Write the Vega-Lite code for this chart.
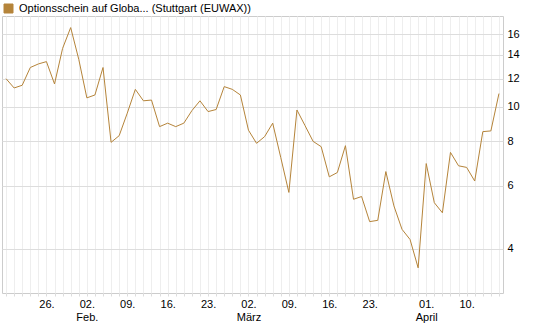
{
  "$schema": "https://vega.github.io/schema/vega-lite/v6.json",
  "width": 501,
  "height": 277,
  "autosize": {"type": "none"},
  "padding": {"left": 2, "top": 16, "right": 42, "bottom": 34},
  "background": "white",
  "config": {
    "font": "Liberation Sans",
    "view": {"stroke": "#cccccc", "strokeWidth": 1}
  },
  "data": {
    "values": [
      {"d": "2015-01-19", "v": 12.0, "name": "Optionsschein auf Globa... (Stuttgart (EUWAX))"},
      {"d": "2015-01-20", "v": 11.3, "name": "Optionsschein auf Globa... (Stuttgart (EUWAX))"},
      {"d": "2015-01-21", "v": 11.5, "name": "Optionsschein auf Globa... (Stuttgart (EUWAX))"},
      {"d": "2015-01-22", "v": 12.9, "name": "Optionsschein auf Globa... (Stuttgart (EUWAX))"},
      {"d": "2015-01-23", "v": 13.2, "name": "Optionsschein auf Globa... (Stuttgart (EUWAX))"},
      {"d": "2015-01-26", "v": 13.4, "name": "Optionsschein auf Globa... (Stuttgart (EUWAX))"},
      {"d": "2015-01-27", "v": 11.6, "name": "Optionsschein auf Globa... (Stuttgart (EUWAX))"},
      {"d": "2015-01-28", "v": 14.6, "name": "Optionsschein auf Globa... (Stuttgart (EUWAX))"},
      {"d": "2015-01-29", "v": 16.7, "name": "Optionsschein auf Globa... (Stuttgart (EUWAX))"},
      {"d": "2015-01-30", "v": 13.6, "name": "Optionsschein auf Globa... (Stuttgart (EUWAX))"},
      {"d": "2015-02-02", "v": 10.6, "name": "Optionsschein auf Globa... (Stuttgart (EUWAX))"},
      {"d": "2015-02-03", "v": 10.8, "name": "Optionsschein auf Globa... (Stuttgart (EUWAX))"},
      {"d": "2015-02-04", "v": 12.9, "name": "Optionsschein auf Globa... (Stuttgart (EUWAX))"},
      {"d": "2015-02-05", "v": 7.95, "name": "Optionsschein auf Globa... (Stuttgart (EUWAX))"},
      {"d": "2015-02-06", "v": 8.3, "name": "Optionsschein auf Globa... (Stuttgart (EUWAX))"},
      {"d": "2015-02-09", "v": 9.6, "name": "Optionsschein auf Globa... (Stuttgart (EUWAX))"},
      {"d": "2015-02-10", "v": 11.2, "name": "Optionsschein auf Globa... (Stuttgart (EUWAX))"},
      {"d": "2015-02-11", "v": 10.4, "name": "Optionsschein auf Globa... (Stuttgart (EUWAX))"},
      {"d": "2015-02-12", "v": 10.45, "name": "Optionsschein auf Globa... (Stuttgart (EUWAX))"},
      {"d": "2015-02-13", "v": 8.8, "name": "Optionsschein auf Globa... (Stuttgart (EUWAX))"},
      {"d": "2015-02-16", "v": 9.0, "name": "Optionsschein auf Globa... (Stuttgart (EUWAX))"},
      {"d": "2015-02-17", "v": 8.8, "name": "Optionsschein auf Globa... (Stuttgart (EUWAX))"},
      {"d": "2015-02-18", "v": 9.0, "name": "Optionsschein auf Globa... (Stuttgart (EUWAX))"},
      {"d": "2015-02-19", "v": 9.76, "name": "Optionsschein auf Globa... (Stuttgart (EUWAX))"},
      {"d": "2015-02-20", "v": 10.4, "name": "Optionsschein auf Globa... (Stuttgart (EUWAX))"},
      {"d": "2015-02-23", "v": 9.7, "name": "Optionsschein auf Globa... (Stuttgart (EUWAX))"},
      {"d": "2015-02-24", "v": 9.83, "name": "Optionsschein auf Globa... (Stuttgart (EUWAX))"},
      {"d": "2015-02-25", "v": 11.4, "name": "Optionsschein auf Globa... (Stuttgart (EUWAX))"},
      {"d": "2015-02-26", "v": 11.2, "name": "Optionsschein auf Globa... (Stuttgart (EUWAX))"},
      {"d": "2015-02-27", "v": 10.8, "name": "Optionsschein auf Globa... (Stuttgart (EUWAX))"},
      {"d": "2015-03-02", "v": 8.6, "name": "Optionsschein auf Globa... (Stuttgart (EUWAX))"},
      {"d": "2015-03-03", "v": 7.9, "name": "Optionsschein auf Globa... (Stuttgart (EUWAX))"},
      {"d": "2015-03-04", "v": 8.25, "name": "Optionsschein auf Globa... (Stuttgart (EUWAX))"},
      {"d": "2015-03-05", "v": 9.0, "name": "Optionsschein auf Globa... (Stuttgart (EUWAX))"},
      {"d": "2015-03-06", "v": 7.2, "name": "Optionsschein auf Globa... (Stuttgart (EUWAX))"},
      {"d": "2015-03-09", "v": 5.75, "name": "Optionsschein auf Globa... (Stuttgart (EUWAX))"},
      {"d": "2015-03-10", "v": 9.8, "name": "Optionsschein auf Globa... (Stuttgart (EUWAX))"},
      {"d": "2015-03-11", "v": 8.86, "name": "Optionsschein auf Globa... (Stuttgart (EUWAX))"},
      {"d": "2015-03-12", "v": 8.0, "name": "Optionsschein auf Globa... (Stuttgart (EUWAX))"},
      {"d": "2015-03-13", "v": 7.73, "name": "Optionsschein auf Globa... (Stuttgart (EUWAX))"},
      {"d": "2015-03-16", "v": 6.36, "name": "Optionsschein auf Globa... (Stuttgart (EUWAX))"},
      {"d": "2015-03-17", "v": 6.54, "name": "Optionsschein auf Globa... (Stuttgart (EUWAX))"},
      {"d": "2015-03-18", "v": 7.78, "name": "Optionsschein auf Globa... (Stuttgart (EUWAX))"},
      {"d": "2015-03-19", "v": 5.5, "name": "Optionsschein auf Globa... (Stuttgart (EUWAX))"},
      {"d": "2015-03-20", "v": 5.6, "name": "Optionsschein auf Globa... (Stuttgart (EUWAX))"},
      {"d": "2015-03-23", "v": 4.76, "name": "Optionsschein auf Globa... (Stuttgart (EUWAX))"},
      {"d": "2015-03-24", "v": 4.8, "name": "Optionsschein auf Globa... (Stuttgart (EUWAX))"},
      {"d": "2015-03-25", "v": 6.58, "name": "Optionsschein auf Globa... (Stuttgart (EUWAX))"},
      {"d": "2015-03-26", "v": 5.27, "name": "Optionsschein auf Globa... (Stuttgart (EUWAX))"},
      {"d": "2015-03-27", "v": 4.53, "name": "Optionsschein auf Globa... (Stuttgart (EUWAX))"},
      {"d": "2015-03-30", "v": 4.24, "name": "Optionsschein auf Globa... (Stuttgart (EUWAX))"},
      {"d": "2015-03-31", "v": 3.53, "name": "Optionsschein auf Globa... (Stuttgart (EUWAX))"},
      {"d": "2015-04-01", "v": 6.93, "name": "Optionsschein auf Globa... (Stuttgart (EUWAX))"},
      {"d": "2015-04-02", "v": 5.38, "name": "Optionsschein auf Globa... (Stuttgart (EUWAX))"},
      {"d": "2015-04-07", "v": 5.04, "name": "Optionsschein auf Globa... (Stuttgart (EUWAX))"},
      {"d": "2015-04-08", "v": 7.45, "name": "Optionsschein auf Globa... (Stuttgart (EUWAX))"},
      {"d": "2015-04-09", "v": 6.83, "name": "Optionsschein auf Globa... (Stuttgart (EUWAX))"},
      {"d": "2015-04-10", "v": 6.76, "name": "Optionsschein auf Globa... (Stuttgart (EUWAX))"},
      {"d": "2015-04-13", "v": 6.19, "name": "Optionsschein auf Globa... (Stuttgart (EUWAX))"},
      {"d": "2015-04-14", "v": 8.52, "name": "Optionsschein auf Globa... (Stuttgart (EUWAX))"},
      {"d": "2015-04-15", "v": 8.56, "name": "Optionsschein auf Globa... (Stuttgart (EUWAX))"},
      {"d": "2015-04-16", "v": 10.9, "name": "Optionsschein auf Globa... (Stuttgart (EUWAX))"}
    ]
  },
  "mark": {"type": "line", "strokeWidth": 1, "interpolate": "linear"},
  "encoding": {
    "x": {
      "field": "d",
      "type": "ordinal",
      "sort": "ascending",
      "scale": {"type": "point", "padding": 0.5},
      "axis": {
        "title": null,
        "grid": true,
        "gridColor": "#eeeeee",
        "gridWidth": 1,
        "domain": false,
        "ticks": true,
        "tickColor": "#dddddd",
        "tickSize": 3,
        "labelAngle": 0,
        "labelPadding": 2,
        "labelFontSize": 11,
        "labelColor": "#000000",
        "labelOverlap": false,
        "labelLineHeight": 13,
        "labelBaseline": "top",
        "labelExpr": "datum.value == '2015-01-26' ? '26.' : datum.value == '2015-02-02' ? ['02.', 'Feb.'] : datum.value == '2015-02-09' ? '09.' : datum.value == '2015-02-16' ? '16.' : datum.value == '2015-02-23' ? '23.' : datum.value == '2015-03-02' ? ['02.', 'März'] : datum.value == '2015-03-09' ? '09.' : datum.value == '2015-03-16' ? '16.' : datum.value == '2015-03-23' ? '23.' : datum.value == '2015-04-01' ? ['01.', 'April'] : datum.value == '2015-04-10' ? '10.' : ''"
      }
    },
    "y": {
      "field": "v",
      "type": "quantitative",
      "scale": {"type": "log", "domain": [3, 18], "nice": false},
      "axis": {
        "title": null,
        "orient": "right",
        "values": [4, 6, 8, 10, 12, 14, 16],
        "grid": true,
        "gridColor": "#dddddd",
        "domain": false,
        "ticks": false,
        "labelPadding": 4,
        "labelFontSize": 11,
        "labelColor": "#000000",
        "format": "d"
      }
    },
    "color": {
      "field": "name",
      "type": "nominal",
      "scale": {"range": ["#b5843a"]},
      "legend": {
        "title": null,
        "orient": "none",
        "legendX": 1,
        "legendY": -13,
        "padding": 0,
        "symbolType": "square",
        "symbolSize": 81,
        "symbolFillColor": "#b5843a",
        "symbolStrokeColor": "#5a4522",
        "symbolStrokeWidth": 1,
        "labelFontSize": 11,
        "labelColor": "#000000",
        "labelOffset": 5,
        "labelLimit": 400
      }
    }
  }
}
